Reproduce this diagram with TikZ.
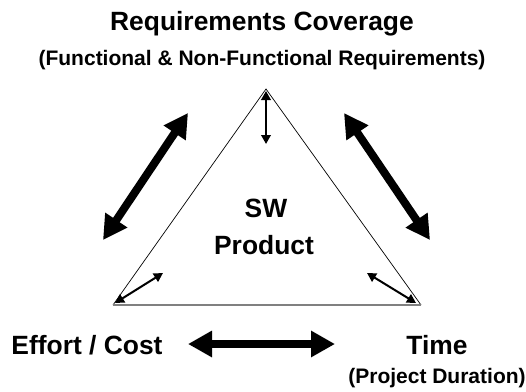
\documentclass[tikz,border=0pt]{standalone}
\usepackage{fontspec}
\setmainfont{Liberation Sans}
\usetikzlibrary{arrows.meta}
\begin{document}
\begin{tikzpicture}[x=1pt,y=-1pt,
  bigtxt/.style={font=\bfseries\fontsize{26.4}{30}\selectfont, inner sep=0pt},
  smalltxt/.style={font=\bfseries\fontsize{21}{24}\selectfont, inner sep=0pt},
  fatarrow/.style={line width=8pt, {Triangle[width=25pt,length=24pt]}-{Triangle[width=25pt,length=24pt]}},
  thinarrow/.style={line width=2pt, {Triangle[width=9.5pt,length=9pt]}-{Triangle[width=9.5pt,length=9pt]}}]
\useasboundingbox (0,0) rectangle (526,391);

% triangle corners
\coordinate (top) at (266,89);
\coordinate (bl) at (113,305);
\coordinate (br) at (421,305);
\draw[line width=0.7pt] (bl) -- (top) -- (br);
\draw[line width=2pt, gray] (bl) -- (br);

% labels
\node[bigtxt] (req) at (262,24) {Requirements Coverage};
\node[smalltxt] (reqsub) at (262,60) {(Functional \& Non-Functional Requirements)};
\node[bigtxt] (sw) at (266,208) {SW};
\node[bigtxt] (prod) at (264,245) {Product};
\node[bigtxt] (cost) at (87,345) {Effort / Cost};
\node[bigtxt] (time) at (437,345) {Time};
\node[smalltxt] (dur) at (437,378) {(Project Duration)};

% fat arrows between the corners
\coordinate (la) at (103,240); \coordinate (lb) at (188,113);
\coordinate (ra) at (430,240); \coordinate (rb) at (344,113);
\coordinate (ha) at (188,344); \coordinate (hb) at (335,344);
\draw[fatarrow] (la) -- (lb);
\draw[fatarrow] (ra) -- (rb);
\draw[fatarrow] (ha) -- (hb);

% small arrows into the product
\coordinate (ta) at (266,91); \coordinate (tb) at (266,144);
\coordinate (ca) at (115,303); \coordinate (cb) at (163,273);
\coordinate (da) at (416,303); \coordinate (db) at (367,273);
\draw[thinarrow] (ta) -- (tb);
\draw[thinarrow] (ca) -- (cb);
\draw[thinarrow] (da) -- (db);
\end{tikzpicture}
\end{document}
